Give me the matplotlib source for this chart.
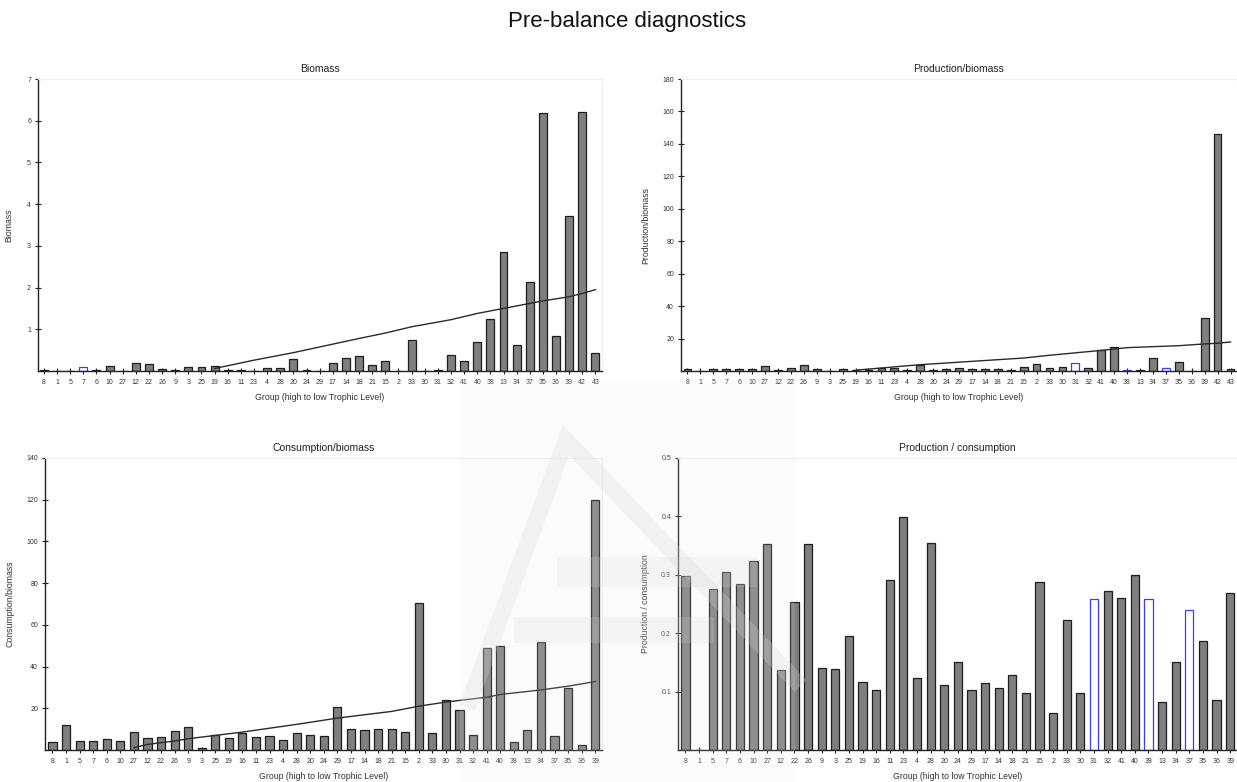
import matplotlib.pyplot as plt
import matplotlib.patches as mpatches
import numpy as np

GROUPS_TOP = ["8", "1", "5", "7", "6", "10", "27", "12", "22", "26", "9", "3", "25", "19", "16",
              "11", "23", "4", "28", "20", "24", "29", "17", "14", "18", "21", "15", "2", "33", "30",
              "31", "32", "41", "40", "38", "13", "34", "37", "35", "36", "39", "42", "43"]
GROUPS_BOTTOM = ["8", "1", "5", "7", "6", "10", "27", "12", "22", "26", "9", "3", "25", "19", "16",
                 "11", "23", "4", "28", "20", "24", "29", "17", "14", "18", "21", "15", "2", "33", "30",
                 "31", "32", "41", "40", "38", "13", "34", "37", "35", "36", "39"]

BIOMASS = [0.02, 0, 0, 0.09, 0.02, 0.12, 0, 0.2, 0.16, 0.05, 0.03, 0.1, 0.1, 0.12, 0.03,
           0.02, 0, 0.07, 0.07, 0.29, 0.02, 0, 0.18, 0.31, 0.37, 0.14, 0.24, 0, 0.75, 0,
           0.02, 0.39, 0.24, 0.69, 1.25, 2.86, 0.62, 2.13, 6.18, 0.85, 3.72, 6.22, 0.42]
BIOMASS_HOLLOW = ["7"]
BIOMASS_TREND_GROUPS = ["19", "23", "20", "18", "15", "33", "32", "40", "13", "37", "35", "39", "42", "43"]
BIOMASS_TREND = [0.06, 0.26, 0.44, 0.78, 0.91, 1.06, 1.23, 1.38, 1.50, 1.62, 1.68, 1.78, 1.86, 1.95]

PB = [1.2, 0, 1.2, 1.2, 1.2, 1.2, 3.1, 0.6, 2.0, 3.5, 1.2, 0, 1.2, 0.6, 0.8,
      1.6, 2.0, 0.6, 3.7, 0.6, 1.2, 1.8, 1.2, 1.2, 1.2, 0.6, 2.7, 4.5, 2.0, 2.5,
      4.9, 2.0, 13.2, 14.8, 0.6, 0.6, 7.8, 1.6, 5.8, 0, 32.7, 146.4, 1.2]
PB_HOLLOW = ["31", "38", "37"]
PB_TREND_GROUPS = ["19", "28", "15", "33", "41", "38", "35", "39", "42", "43"]
PB_TREND = [0.5, 3.9, 8.0, 9.7, 12.7, 14.4, 15.6, 16.7, 17.1, 17.9]

QB = [3.8, 12.1, 4.1, 4.5, 5.3, 4.5, 8.6, 5.7, 6.2, 9.1, 10.8, 1.1, 7.0, 5.7, 8.3,
      6.0, 6.5, 4.9, 8.1, 7.0, 6.7, 20.4, 9.9, 9.6, 9.9, 10.2, 8.6, 70.6, 8.1, 23.9,
      19.4, 7.0, 49.0, 49.7, 3.7, 9.6, 51.9, 6.5, 29.8, 2.5, 119.8]
QB_TREND_GROUPS = ["27", "12", "26", "9", "16", "28", "29", "21", "2", "30", "41", "40", "34", "35", "39"]
QB_TREND = [1.1, 2.7, 4.3, 5.4, 8.6, 12.3, 15.3, 18.5, 21.0, 23.0, 25.3, 26.6, 28.8, 30.6, 32.8]

PQ = [0.298, 0, 0.276, 0.305, 0.285, 0.324, 0.353, 0.137, 0.254, 0.353, 0.141, 0.139, 0.195, 0.117, 0.103,
      0.291, 0.399, 0.123, 0.354, 0.112, 0.151, 0.102, 0.115, 0.106, 0.129, 0.098, 0.288, 0.063, 0.222, 0.098,
      0.259, 0.273, 0.261, 0.300, 0.259, 0.083, 0.151, 0.240, 0.187, 0.085, 0.269]
PQ_HOLLOW = ["31", "38", "37"]

FONT = ["Liberation Sans", "DejaVu Sans"]
W, H = 1237, 782


def axes_rect(left, right, top, bottom):
    return [left / W, 1 - bottom / H, (right - left) / W, (bottom - top) / H]


def px(x, y):
    # pixel position (from top-left) -> figure fraction
    return (x / W, 1 - y / H)


def draw_panel(ax, groups, values, hollow, ymax, yticks, title, ylabel, xlim,
               trend_groups=None, trend=None, ylab_x=-0.045):
    x = np.arange(len(groups))
    faces = ["white" if g in hollow else "#7f7f7f" for g in groups]
    edges = ["#3b3bff" if g in hollow else "#1e1e1e" for g in groups]
    ax.bar(x, values, width=0.6, color=faces, edgecolor=edges, linewidth=0.9, zorder=2)
    if trend is not None:
        tx = [groups.index(g) for g in trend_groups]
        ax.plot(tx, trend, color="#2a2a2a", lw=1.0, zorder=3)

    ax.set_xlim(*xlim)
    ax.set_ylim(0, ymax)
    ax.set_xticks(x)
    ax.set_xticklabels(groups)
    ax.set_yticks(yticks)
    ax.set_yticklabels([f"{t:g}" for t in yticks])
    ax.tick_params(axis="both", direction="inout", length=5, width=0.8, colors="#222222",
                   labelsize=5, pad=2.5)
    ax.tick_params(axis="x", length=5, pad=3)
    for lab in ax.get_xticklabels() + ax.get_yticklabels():
        lab.set_color("#333333")
        lab.set_family(FONT)

    ax.set_title(title, fontsize=7.5, pad=5, color="#222222", family=FONT)
    ax.set_xlabel("Group (high to low Trophic Level)", fontsize=6.3, labelpad=5,
                  color="#333333", family=FONT)
    ax.set_ylabel(ylabel, fontsize=6.3, color="#333333", family=FONT)
    ax.yaxis.set_label_coords(ylab_x, 0.5)

    for side in ("left", "bottom"):
        ax.spines[side].set_color("#222222")
        ax.spines[side].set_linewidth(1.0)
    for side in ("top", "right"):
        ax.spines[side].set_color("#f0f0f0")
        ax.spines[side].set_linewidth(0.8)


def add_watermark(fig):
    # faint logo sitting over the middle of the lower row
    box = mpatches.Rectangle(px(460, 782), 335 / W, 402 / H, transform=fig.transFigure,
                             facecolor="#e6e6e6", edgecolor="none", alpha=0.15, zorder=10)
    fig.add_artist(box)
    xs, ys = zip(*[px(*p) for p in [(470, 700), (566, 440), (795, 680)]])
    fig.add_artist(plt.Line2D(xs, ys, transform=fig.transFigure, color="#d8d8d8",
                              lw=12, alpha=0.25, solid_joinstyle="miter", zorder=11))
    for x0, y0, w, h in [(557, 557, 200, 30), (514, 617, 200, 26)]:
        fig.add_artist(mpatches.Rectangle(px(x0, y0 + h), w / W, h / H, transform=fig.transFigure,
                                          facecolor="#d8d8d8", edgecolor="none", alpha=0.2,
                                          zorder=11))


def plot():
    fig = plt.figure(figsize=(W / 100, H / 100), dpi=100)
    fig.text(0.507, 1 - 21 / H, "Pre-balance diagnostics", ha="center", va="center",
             fontsize=16, family=FONT, color="#111111")

    ax1 = fig.add_axes(axes_rect(38, 602, 79, 371))
    draw_panel(ax1, GROUPS_TOP, BIOMASS, BIOMASS_HOLLOW, 7, [1, 2, 3, 4, 5, 6, 7],
               "Biomass", "Biomass", (-0.45, 42.5),
               BIOMASS_TREND_GROUPS, BIOMASS_TREND, ylab_x=-0.043)

    ax2 = fig.add_axes(axes_rect(681, 1237, 79, 371))
    draw_panel(ax2, GROUPS_TOP, PB, PB_HOLLOW, 180, list(range(20, 181, 20)),
               "Production/biomass", "Production/biomass", (-0.5, 42.5),
               PB_TREND_GROUPS, PB_TREND, ylab_x=-0.056)

    ax3 = fig.add_axes(axes_rect(45, 602, 458, 750))
    draw_panel(ax3, GROUPS_BOTTOM, QB, [], 140, list(range(20, 141, 20)),
               "Consumption/biomass", "Consumption/biomass", (-0.55, 40.5),
               QB_TREND_GROUPS, QB_TREND, ylab_x=-0.054)

    ax4 = fig.add_axes(axes_rect(678, 1237, 458, 750))
    draw_panel(ax4, GROUPS_BOTTOM, PQ, PQ_HOLLOW, 0.5, [0.1, 0.2, 0.3, 0.4, 0.5],
               "Production / consumption", "Production / consumption", (-0.55, 40.5),
               ylab_x=-0.05)

    add_watermark(fig)

    fig.savefig("out.png", dpi=100)
    plt.close(fig)


if __name__ == "__main__":
    plot()
